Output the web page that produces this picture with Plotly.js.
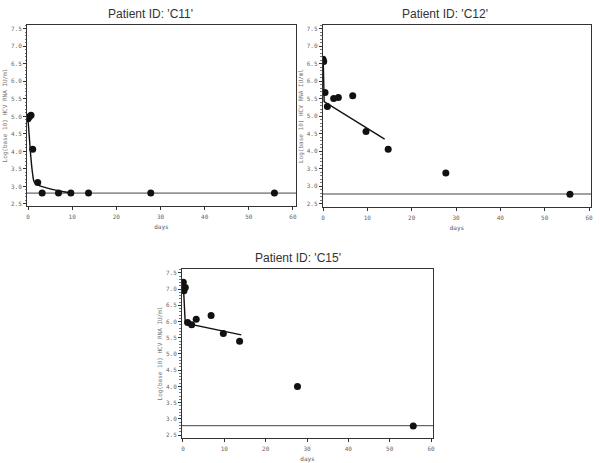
<!DOCTYPE html>
<html>
<head>
<meta charset="utf-8">
<script src="https://cdn.plot.ly/plotly-3.0.1.min.js"></script>
<style>html,body{margin:0;padding:0;background:#fff;}#chart{width:600px;height:463px;}</style>
</head>
<body>
<div id="chart"></div>
<script>
// ---- data ----
const patients = ["C11", "C12", "C15"];

const c11Days = [0, 0.3, 0.68, 1.06, 2.2, 3.2, 6.9, 9.7, 13.7, 27.8, 55.8];
const c11Vals = [4.93, 4.99, 5.03, 4.06, 3.11, 2.81, 2.81, 2.81, 2.81, 2.81, 2.81];
const c11FitDays = [0, 0.3, 0.6, 1.0, 1.4, 2.0, 3.0, 5.0, 7.0, 9.7];
const c11FitVals = [4.92, 4.4, 3.9, 3.4, 3.13, 3.06, 3.0, 2.93, 2.87, 2.82];
const c11Limit = 2.81;

const c12Days = [0, 0.15, 0.45, 0.98, 2.4, 3.46, 6.7, 9.7, 14.7, 27.7, 55.7];
const c12Vals = [6.63, 6.57, 5.68, 5.28, 5.51, 5.54, 5.59, 4.57, 4.06, 3.38, 2.77];
const c12FitDays = [0.05, 0.25, 13.9];
const c12FitVals = [6.62, 5.42, 4.35];
const c12Limit = 2.78;

const c15Days = [0.08, 0.24, 0.56, 1.13, 2.1, 3.2, 6.8, 9.76, 13.7, 27.7, 55.7];
const c15Vals = [7.21, 6.95, 7.05, 5.97, 5.90, 6.07, 6.19, 5.63, 5.39, 4.0, 2.78];
const c15FitDays = [0.1, 0.55, 14.1];
const c15FitVals = [7.1, 5.95, 5.59];
const c15Limit = 2.79;

const limitDays = [-1, 61];
const yTicks = [2.5, 3.0, 3.5, 4.0, 4.5, 5.0, 5.5, 6.0, 6.5, 7.0, 7.5];
const xTicks = [0, 10, 20, 30, 40, 50, 60];
const yTitle = "Log(base 10) HCV RNA IU/ml";
const xTitle = "days";

// ---- traces ----
const sets = [
  {d: c11Days, v: c11Vals, fd: c11FitDays, fv: c11FitVals, lim: c11Limit, ax: ["x", "y"], spline: true},
  {d: c12Days, v: c12Vals, fd: c12FitDays, fv: c12FitVals, lim: c12Limit, ax: ["x2", "y2"], spline: false},
  {d: c15Days, v: c15Vals, fd: c15FitDays, fv: c15FitVals, lim: c15Limit, ax: ["x3", "y3"], spline: false}
];
const traces = [];
sets.forEach(s => {
  traces.push({x: limitDays, y: [s.lim, s.lim], xaxis: s.ax[0], yaxis: s.ax[1], mode: "lines",
    line: {color: "#444", width: 1}, hoverinfo: "skip", showlegend: false});
  traces.push({x: s.fd, y: s.fv, xaxis: s.ax[0], yaxis: s.ax[1], mode: "lines",
    line: {color: "#111", width: 1.4, shape: s.spline ? "spline" : "linear"}, showlegend: false});
  traces.push({x: s.d, y: s.v, xaxis: s.ax[0], yaxis: s.ax[1], mode: "markers",
    marker: {color: "#111", size: 7}, showlegend: false});
});

// ---- layout ----
const tickFont = {family: "DejaVu Sans Mono", size: 6, color: "#666"};
function xa(domain, range, anchor) {
  return {domain: domain, range: range, anchor: anchor, tickvals: xTicks, ticktext: xTicks.map(String),
    showline: true, mirror: true, linecolor: "#333", linewidth: 1, ticks: "outside", ticklen: 3,
    tickcolor: "#333", showgrid: false, zeroline: false, tickfont: tickFont, ticklabelstandoff: 2,
    title: {text: xTitle, font: {family: "DejaVu Sans Mono", size: 6, color: "#555"}, standoff: 5}};
}
function ya(domain, range, anchor) {
  return {domain: domain, range: range, anchor: anchor, tickvals: yTicks, ticktext: yTicks.map(v => v.toFixed(1)),
    showline: true, mirror: true, linecolor: "#333", linewidth: 1, ticks: "outside", ticklen: 3,
    tickcolor: "#333", showgrid: false, zeroline: false, tickfont: tickFont,
    minor: {dtick: 0.1, ticks: "outside", ticklen: 1.5, tickcolor: "#777"},
    title: {text: yTitle, font: {family: "DejaVu Sans Mono", size: 6, color: "#777"}, standoff: 2}};
}
const titleFont = {family: "Liberation Sans", size: 12, color: "#333"};
const layout = {
  width: 600, height: 463,
  margin: {l: 0, r: 0, t: 0, b: 0},
  paper_bgcolor: "#fff", plot_bgcolor: "#fff",
  xaxis: xa([0.045, 0.4933], [-0.23, 60.68], "y"),
  yaxis: ya([0.555, 0.946], [2.44, 7.61], "x"),
  xaxis2: xa([0.538, 0.985], [-0.05, 60.45], "y2"),
  yaxis2: ya([0.553, 0.946], [2.41, 7.61], "x2"),
  xaxis3: xa([0.3033, 0.7217], [-0.24, 60.48], "y3"),
  yaxis3: ya([0.054, 0.419], [2.41, 7.62], "x3"),
  annotations: [
    {text: "Patient ID: '" + patients[0] + "'", x: 150 / 600, y: 1 - 14 / 463, xref: "paper", yref: "paper", showarrow: false, font: titleFont, xanchor: "center", yanchor: "middle"},
    {text: "Patient ID: '" + patients[1] + "'", x: 445 / 600, y: 1 - 14 / 463, xref: "paper", yref: "paper", showarrow: false, font: titleFont, xanchor: "center", yanchor: "middle"},
    {text: "Patient ID: '" + patients[2] + "'", x: 298 / 600, y: 1 - 258 / 463, xref: "paper", yref: "paper", showarrow: false, font: titleFont, xanchor: "center", yanchor: "middle"}
  ]
};
Plotly.newPlot("chart", traces, layout, {staticPlot: true, displayModeBar: false});
</script>
</body>
</html>
